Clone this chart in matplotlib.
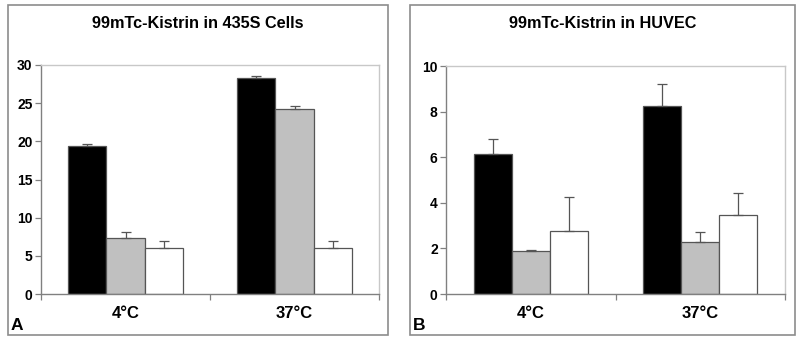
import matplotlib
matplotlib.use("Agg")
import matplotlib.pyplot as plt
from matplotlib.patches import Rectangle
import numpy as np

plt.rcParams['font.family'] = ['Liberation Sans', 'DejaVu Sans']

categories = ['4°C', '37°C']
series_colors = ['#000000', '#c0c0c0', '#ffffff']

titleA = '99mTc-Kistrin in 435S Cells'
valsA = [[19.4, 28.3], [7.4, 24.3], [6.0, 6.0]]
errA = [[0.2, 0.2], [0.7, 0.3], [0.9, 0.9]]
yticksA = [0, 5, 10, 15, 20, 25, 30]

titleB = '99mTc-Kistrin in HUVEC'
valsB = [[6.15, 8.25], [1.9, 2.28], [2.78, 3.45]]
errB = [[0.65, 0.97], [0.03, 0.45], [1.48, 0.97]]
yticksB = [0, 2, 4, 6, 8, 10]

W, H = 800, 341
fig = plt.figure(figsize=(8, 3.41), dpi=100)

def fx(px):
    return px / W

def fy(py):
    return 1 - py / H

def panel(box, axbox, title, title_x, vals, errs, yticks, letter):
    x0, y0, x1, y1 = box
    fig.patches.append(Rectangle((fx(x0), fy(y1)), fx(x1) - fx(x0), fy(y0) - fy(y1),
                                 transform=fig.transFigure, fill=False,
                                 edgecolor='#8c8c8c', linewidth=1.2))
    ax0, ay0, ax1, ay1 = axbox
    ax = fig.add_axes([fx(ax0), fy(ay1), fx(ax1) - fx(ax0), fy(ay0) - fy(ay1)])
    n = len(vals)
    bw = 0.225
    centers = np.arange(len(categories)) + 0.5
    for i in range(n):
        xs = centers + (i - (n - 1) / 2) * bw
        ax.bar(xs, vals[i], width=bw, color=series_colors[i],
               edgecolor='#555555', linewidth=0.9, zorder=2)
        ax.errorbar(xs, vals[i], yerr=[np.zeros(len(errs[i])), errs[i]],
                    fmt='none', ecolor='#555555', elinewidth=0.9,
                    capsize=3.5, capthick=0.9, zorder=3)
    ax.set_xlim(0, len(categories))
    ax.set_ylim(yticks[0], yticks[-1])
    ax.set_yticks(yticks)
    ax.set_yticklabels([str(t) for t in yticks], fontsize=10, fontweight='bold')
    ax.set_xticks(np.arange(len(categories) + 1))
    ax.set_xticklabels([])
    ax.set_xticks(centers, minor=True)
    ax.set_xticklabels(categories, minor=True, fontsize=12, fontweight='bold')
    ax.tick_params(axis='x', which='minor', length=0, pad=9)
    ax.tick_params(axis='both', which='major', direction='out', length=4,
                   color='#808080', width=0.9)
    ax.tick_params(axis='y', pad=2)
    for s in ['left', 'bottom']:
        ax.spines[s].set_color('#808080')
        ax.spines[s].set_linewidth(1.0)
    for s in ['top', 'right']:
        ax.spines[s].set_color('#c8c8c8')
        ax.spines[s].set_linewidth(1.0)
    fig.text(fx(title_x), fy(24), title, ha='center', va='center',
             fontsize=11.7, fontweight='bold')
    fig.text(fx(x0 + 3), fy(325), letter, ha='left', va='center',
             fontsize=12.5, fontweight='bold')
    return ax

panel((8, 5, 388, 335), (41, 65, 379, 294), titleA, 198, valsA, errA, yticksA, 'A')
panel((410, 5, 795, 335), (446, 66, 785, 294), titleB, 603, valsB, errB, yticksB, 'B')

fig.savefig('out.png', dpi=100, facecolor='white')
